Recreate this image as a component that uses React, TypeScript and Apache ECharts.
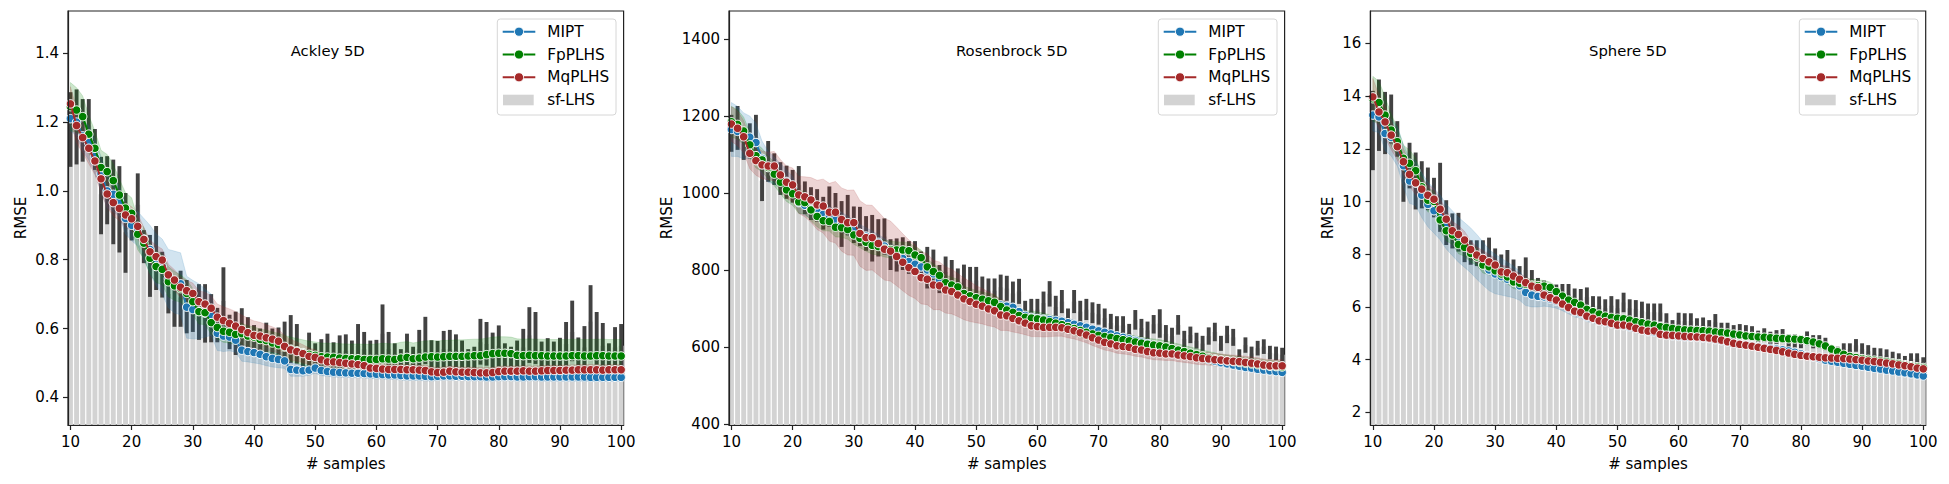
import React, { useEffect, useRef } from "react";
import * as echarts from "echarts";

const FONT = '"DejaVu Sans", "Liberation Sans", sans-serif';

// x categories (# samples)
const SAMPLES = Array.from({ length: 91 }, (_, i) => 10 + i);
const X_TICKS = [10, 20, 30, 40, 50, 60, 70, 80, 90, 100];
const SERIES_NAMES = ["MIPT", "FpPLHS", "MqPLHS", "sf-LHS"];
const TITLES = ["Ackley 5D", "Rosenbrock 5D", "Sphere 5D"];

// ---------------- Ackley 5D ----------------
const ACK_Y_TICKS = [0.4, 0.6, 0.8, 1.0, 1.2, 1.4];
const ACK_SF_MEAN = [
  1.18, 1.19, 1.18, 1.19, 1.12, 0.99, 1.0, 0.97, 0.95, 0.88,
  0.9, 0.96, 0.84, 0.78, 0.8, 0.76, 0.7, 0.68, 0.69, 0.66,
  0.645, 0.65, 0.645, 0.63, 0.61, 0.68, 0.59, 0.585, 0.6, 0.58,
  0.565, 0.555, 0.56, 0.55, 0.55, 0.56, 0.57, 0.555, 0.51, 0.54,
  0.52, 0.525, 0.535, 0.52, 0.53, 0.535, 0.52, 0.55, 0.54, 0.52,
  0.525, 0.585, 0.54, 0.52, 0.51, 0.535, 0.51, 0.54, 0.565, 0.52,
  0.52, 0.54, 0.54, 0.535, 0.52, 0.505, 0.51, 0.56, 0.555, 0.535,
  0.55, 0.515, 0.51, 0.52, 0.545, 0.58, 0.57, 0.52, 0.525, 0.52,
  0.525, 0.555, 0.59, 0.525, 0.545, 0.62, 0.57, 0.55, 0.515, 0.545,
  0.55,
];
const ACK_SF_LO = [
  1.07, 1.077, 1.085, 1.114, 1.061, 0.874, 0.903, 0.845, 0.821, 0.762,
  0.856, 0.867, 0.79, 0.692, 0.712, 0.69, 0.644, 0.605, 0.605, 0.586,
  0.59, 0.567, 0.559, 0.56, 0.56, 0.586, 0.54, 0.523, 0.545, 0.53,
  0.52, 0.515, 0.51, 0.505, 0.5, 0.5, 0.5, 0.498, 0.48, 0.49,
  0.485, 0.485, 0.49, 0.48, 0.485, 0.487, 0.482, 0.49, 0.488, 0.48,
  0.483, 0.5, 0.488, 0.48, 0.475, 0.49, 0.478, 0.488, 0.497, 0.48,
  0.478, 0.487, 0.488, 0.485, 0.48, 0.472, 0.474, 0.495, 0.492, 0.486,
  0.49, 0.478, 0.475, 0.48, 0.488, 0.5, 0.497, 0.478, 0.48, 0.478,
  0.48, 0.49, 0.505, 0.48, 0.487, 0.51, 0.495, 0.488, 0.476, 0.486,
  0.488,
];
const ACK_SF_HI = [
  1.287, 1.295, 1.267, 1.267, 1.18, 1.099, 1.101, 1.091, 1.072, 0.994,
  0.94, 1.051, 0.886, 0.872, 0.898, 0.823, 0.76, 0.751, 0.768, 0.741,
  0.7, 0.729, 0.729, 0.7, 0.66, 0.778, 0.64, 0.649, 0.659, 0.633,
  0.61, 0.6, 0.617, 0.6, 0.603, 0.62, 0.639, 0.613, 0.54, 0.588,
  0.557, 0.569, 0.585, 0.56, 0.58, 0.583, 0.565, 0.613, 0.59, 0.565,
  0.567, 0.67, 0.59, 0.557, 0.54, 0.585, 0.547, 0.596, 0.634, 0.566,
  0.564, 0.593, 0.596, 0.583, 0.565, 0.54, 0.547, 0.628, 0.619, 0.588,
  0.609, 0.557, 0.547, 0.565, 0.599, 0.662, 0.648, 0.562, 0.572, 0.562,
  0.573, 0.619, 0.681, 0.574, 0.607, 0.726, 0.648, 0.616, 0.557, 0.604,
  0.613,
];
const ACK_MIPT = [
  1.21, 1.2, 1.16, 1.14, 1.1, 1.05, 1.0, 0.99, 0.97, 0.92,
  0.9, 0.89, 0.86, 0.83, 0.8, 0.78, 0.745, 0.735, 0.73, 0.662,
  0.655, 0.65, 0.645, 0.64, 0.586, 0.578, 0.575, 0.566, 0.537, 0.533,
  0.53, 0.525, 0.518, 0.513, 0.51, 0.506, 0.481, 0.479, 0.477, 0.479,
  0.485, 0.478, 0.475, 0.473, 0.472, 0.471, 0.47, 0.47, 0.469, 0.468,
  0.467, 0.466, 0.465, 0.465, 0.463, 0.462, 0.462, 0.462, 0.461, 0.46,
  0.461, 0.462, 0.462, 0.461, 0.461, 0.46, 0.46, 0.46, 0.459, 0.459,
  0.46, 0.46, 0.46, 0.459, 0.459, 0.46, 0.46, 0.459, 0.459, 0.459,
  0.459, 0.459, 0.459, 0.459, 0.459, 0.458, 0.458, 0.458, 0.458, 0.458,
  0.458,
];
const ACK_FP = [
  1.245, 1.235, 1.216, 1.165, 1.124, 1.068, 1.056, 1.03, 0.988, 0.95,
  0.935, 0.874, 0.848, 0.804, 0.78, 0.772, 0.736, 0.724, 0.716, 0.702,
  0.678, 0.649, 0.646, 0.617, 0.603, 0.592, 0.589, 0.583, 0.585, 0.578,
  0.575, 0.568, 0.565, 0.558, 0.553, 0.546, 0.54, 0.535, 0.53, 0.525,
  0.522, 0.518, 0.517, 0.516, 0.514, 0.513, 0.512, 0.512, 0.51, 0.51,
  0.51, 0.512, 0.511, 0.51, 0.514, 0.516, 0.512, 0.514, 0.517, 0.518,
  0.517, 0.518, 0.519, 0.519, 0.519, 0.52, 0.521, 0.521, 0.524, 0.527,
  0.528, 0.528, 0.527, 0.522, 0.521, 0.522, 0.521, 0.521, 0.52, 0.52,
  0.52, 0.52, 0.521, 0.521, 0.52, 0.52, 0.521, 0.521, 0.52, 0.52,
  0.52,
];
const ACK_MQ = [
  1.253, 1.19, 1.155, 1.124, 1.087, 1.035, 0.991, 0.966, 0.949, 0.93,
  0.919, 0.897, 0.859, 0.823, 0.809, 0.799, 0.756, 0.741, 0.72, 0.71,
  0.702, 0.678, 0.671, 0.659, 0.633, 0.623, 0.615, 0.607, 0.597, 0.588,
  0.58, 0.578, 0.573, 0.569, 0.563, 0.548, 0.538, 0.533, 0.527, 0.519,
  0.516, 0.509, 0.503, 0.503, 0.501, 0.499, 0.497, 0.495, 0.492, 0.485,
  0.484, 0.482, 0.481, 0.481, 0.481, 0.48, 0.48, 0.479, 0.478, 0.474,
  0.472, 0.473, 0.476, 0.474, 0.473, 0.473, 0.472, 0.471, 0.471, 0.472,
  0.475, 0.476, 0.476, 0.476, 0.477, 0.476, 0.476, 0.477, 0.478, 0.478,
  0.478, 0.479, 0.479, 0.48, 0.48, 0.48, 0.48, 0.479, 0.48, 0.48,
  0.48,
];
const ACK_MIPT_HW = [
  0.035, 0.04, 0.045, 0.05, 0.05, 0.05, 0.05, 0.05, 0.045, 0.045,
  0.045, 0.05, 0.06, 0.07, 0.075, 0.08, 0.085, 0.09, 0.09, 0.09,
  0.085, 0.08, 0.07, 0.06, 0.05, 0.045, 0.04, 0.035, 0.032, 0.03,
  0.03, 0.028, 0.026, 0.025, 0.024, 0.022, 0.02, 0.018, 0.016, 0.015,
  0.015, 0.015, 0.014, 0.014, 0.014, 0.013, 0.013, 0.013, 0.013, 0.013,
  0.013, 0.013, 0.013, 0.013, 0.013, 0.013, 0.013, 0.013, 0.013, 0.013,
  0.012, 0.012, 0.012, 0.012, 0.012, 0.012, 0.012, 0.012, 0.012, 0.012,
  0.012, 0.012, 0.012, 0.012, 0.012, 0.012, 0.012, 0.012, 0.012, 0.012,
  0.012, 0.012, 0.012, 0.012, 0.012, 0.012, 0.012, 0.012, 0.012, 0.012,
  0.012,
];
const ACK_FP_HW = [
  0.07, 0.065, 0.06, 0.055, 0.05, 0.05, 0.05, 0.048, 0.046, 0.045,
  0.045, 0.045, 0.045, 0.046, 0.046, 0.045, 0.044, 0.042, 0.04, 0.04,
  0.038, 0.036, 0.035, 0.034, 0.033, 0.032, 0.031, 0.03, 0.03, 0.03,
  0.03, 0.03, 0.031, 0.032, 0.033, 0.034, 0.035, 0.036, 0.037, 0.038,
  0.039, 0.04, 0.04, 0.041, 0.042, 0.042, 0.043, 0.043, 0.044, 0.044,
  0.045, 0.045, 0.045, 0.046, 0.046, 0.046, 0.046, 0.047, 0.047, 0.047,
  0.047, 0.047, 0.047, 0.048, 0.048, 0.048, 0.048, 0.048, 0.048, 0.048,
  0.048, 0.048, 0.048, 0.048, 0.048, 0.048, 0.048, 0.048, 0.048, 0.048,
  0.048, 0.048, 0.048, 0.048, 0.048, 0.048, 0.048, 0.048, 0.048, 0.048,
  0.048,
];
const ACK_MQ_HW = [
  0.05, 0.05, 0.045, 0.045, 0.04, 0.04, 0.04, 0.038, 0.036, 0.035,
  0.035, 0.035, 0.035, 0.034, 0.033, 0.032, 0.031, 0.03, 0.03, 0.03,
  0.03, 0.032, 0.034, 0.036, 0.038, 0.04, 0.042, 0.042, 0.042, 0.042,
  0.042, 0.04, 0.038, 0.036, 0.034, 0.032, 0.03, 0.028, 0.026, 0.024,
  0.022, 0.02, 0.019, 0.018, 0.017, 0.016, 0.016, 0.015, 0.015, 0.015,
  0.015, 0.015, 0.015, 0.015, 0.015, 0.015, 0.015, 0.015, 0.015, 0.015,
  0.015, 0.015, 0.015, 0.015, 0.015, 0.015, 0.015, 0.015, 0.015, 0.015,
  0.015, 0.015, 0.015, 0.015, 0.015, 0.015, 0.015, 0.015, 0.015, 0.015,
  0.015, 0.015, 0.015, 0.015, 0.015, 0.015, 0.015, 0.015, 0.015, 0.015,
  0.015,
];

// ---------------- Rosenbrock 5D ----------------
const ROS_Y_TICKS = [400, 600, 800, 1000, 1200, 1400];
const ROS_SF_MEAN = [
  1155, 1170, 1128, 1135, 1146, 1032, 1082, 1062, 1037, 1028,
  1017, 1020, 987, 972, 967, 947, 964, 950, 920, 942,
  917, 913, 895, 882, 883, 887, 840, 839, 842, 832,
  832, 809, 806, 811, 776, 795, 788, 768, 778, 773,
  773, 750, 746, 746, 755, 752, 739, 744, 692, 697,
  697, 714, 738, 704, 718, 675, 718, 692, 697, 689,
  685, 675, 662, 656, 656, 637, 670, 649, 643, 659,
  661, 634, 628, 657, 621, 631, 616, 609, 628, 639,
  609, 632, 625, 577, 605, 583, 597, 601, 585, 583,
  580,
];
const ROS_SF_LO = [
  1107, 1112, 1086, 1090, 1090, 979, 1029, 1021, 995, 985,
  975, 969, 945, 930, 925, 905, 912, 900, 860, 890,
  870, 862, 850, 822, 835, 840, 800, 796, 800, 790,
  790, 770, 752, 770, 740, 755, 750, 732, 742, 738,
  738, 718, 714, 714, 722, 720, 708, 712, 665, 670,
  670, 685, 705, 676, 688, 650, 688, 665, 670, 662,
  658, 650, 638, 633, 633, 615, 645, 625, 620, 635,
  624, 612, 606, 632, 600, 610, 596, 590, 606, 615,
  590, 610, 603, 560, 585, 566, 578, 582, 568, 566,
  563,
];
const ROS_SF_HI = [
  1203, 1226, 1170, 1181, 1203, 1086, 1135, 1103, 1080, 1071,
  1060, 1070, 1030, 1015, 1010, 990, 1017, 1000, 979, 995,
  965, 964, 940, 943, 932, 934, 880, 882, 885, 875,
  875, 848, 860, 853, 813, 835, 826, 804, 814, 808,
  808, 783, 778, 778, 788, 785, 770, 777, 720, 725,
  725, 744, 771, 733, 748, 700, 748, 720, 725, 716,
  712, 700, 686, 680, 680, 660, 696, 673, 666, 683,
  698, 657, 650, 683, 642, 653, 637, 629, 651, 663,
  629, 655, 647, 594, 625, 601, 616, 620, 603, 601,
  598,
];
const ROS_MIPT = [
  1165, 1160, 1148, 1145, 1131, 1090, 1068, 1058, 1045, 1030,
  1015, 975, 968, 958, 952, 945, 940, 930, 925, 915,
  905, 895, 888, 880, 872, 862, 852, 842, 830, 822,
  815, 808, 800, 790, 775, 762, 752, 742, 736, 730,
  725, 720, 716, 712, 709, 706, 703, 692, 682, 677,
  674, 672, 671, 669, 667, 663, 659, 655, 651, 646,
  642, 638, 634, 629, 625, 621, 617, 613, 609, 605,
  601, 597, 593, 589, 585, 580, 576, 571, 567, 563,
  559, 556, 553, 550, 547, 545, 542, 540, 538, 536,
  534,
];
const ROS_FP = [
  1185, 1178, 1161, 1125, 1097, 1086, 1066, 1049, 1028, 1008,
  998, 977, 975, 956, 939, 928, 926, 911, 910, 905,
  891, 882, 872, 864, 861, 856, 853, 852, 852, 850,
  839, 832, 808, 796, 786, 767, 761, 756, 739, 733,
  728, 724, 720, 716, 705, 696, 690, 682, 677, 675,
  673, 670, 666, 662, 658, 653, 648, 643, 638, 634,
  630, 627, 625, 622, 619, 616, 613, 610, 607, 605,
  603, 600, 596, 592, 588, 584, 580, 576, 572, 569,
  566, 564, 562, 560, 558, 556, 554, 552, 550, 549,
  548,
];
const ROS_MQ = [
  1179, 1168, 1146, 1103, 1084, 1073, 1070, 1070, 1047, 1028,
  1021, 995, 990, 982, 969, 966, 950, 950, 931, 923,
  923, 895, 884, 884, 869, 854, 849, 835, 820, 806,
  796, 780, 776, 761, 759, 748, 744, 735, 725, 718,
  711, 706, 699, 694, 683, 681, 674, 668, 662, 655,
  653, 651, 651, 651, 650, 646, 642, 637, 631, 624,
  618, 612, 608, 603, 601, 599, 594, 592, 588, 585,
  584, 582, 582, 579, 577, 575, 572, 570, 569, 567,
  566, 564, 563, 562, 560, 558, 556, 553, 551, 551,
  551,
];
const ROS_MIPT_HW = [
  70, 65, 60, 55, 50, 45, 40, 35, 32, 30,
  28, 27, 26, 25, 25, 25, 25, 25, 25, 25,
  24, 23, 22, 21, 20, 20, 19, 18, 18, 17,
  16, 16, 15, 15, 14, 14, 13, 13, 13, 12,
  12, 12, 12, 12, 12, 12, 12, 11, 11, 11,
  11, 11, 11, 11, 11, 11, 11, 10, 10, 10,
  10, 10, 10, 10, 10, 10, 10, 10, 10, 10,
  10, 10, 10, 10, 10, 10, 9, 9, 9, 9,
  9, 9, 9, 9, 9, 9, 9, 9, 9, 9,
  9,
];
const ROS_FP_HW = [
  40, 38, 36, 34, 32, 30, 30, 30, 30, 30,
  30, 30, 29, 28, 27, 26, 25, 25, 25, 25,
  24, 24, 23, 23, 22, 22, 22, 21, 21, 21,
  21, 20, 20, 20, 20, 20, 20, 20, 19, 19,
  19, 19, 19, 19, 18, 18, 18, 18, 18, 18,
  18, 18, 17, 17, 17, 17, 17, 17, 17, 17,
  16, 16, 16, 16, 16, 16, 16, 16, 16, 16,
  16, 16, 16, 16, 16, 16, 16, 16, 16, 16,
  15, 15, 15, 15, 15, 15, 15, 15, 15, 15,
  15,
];
const ROS_MQ_HW = [
  45, 45, 42, 40, 38, 36, 36, 38, 40, 42,
  44, 48, 52, 58, 64, 70, 75, 80, 82, 84,
  85, 85, 85, 84, 82, 80, 78, 76, 74, 72,
  70, 68, 66, 64, 62, 60, 58, 56, 54, 52,
  48, 46, 44, 42, 40, 38, 35, 32, 30, 28,
  26, 25, 24, 23, 22, 22, 21, 21, 20, 20,
  20, 20, 19, 19, 19, 19, 18, 18, 18, 18,
  18, 17, 17, 17, 17, 17, 17, 16, 16, 16,
  16, 16, 16, 16, 16, 16, 16, 16, 16, 16,
  16,
];

// ---------------- Sphere 5D ----------------
const SPH_Y_TICKS = [2, 4, 6, 8, 10, 12, 14, 16];
const SPH_SF_MEAN = [
  12.7, 13.3, 13.0, 13.1, 12.4, 10.85, 11.35, 10.8, 10.6, 10.5,
  10.15, 10.15, 9.2, 8.9, 8.85, 8.13, 8.06, 8.04, 8.0, 8.1,
  7.76, 7.55, 7.68, 7.38, 7.15, 7.4, 7.0, 6.75, 6.65, 6.55,
  6.5, 6.48, 6.48, 6.33, 6.3, 6.37, 6.05, 6.05, 5.95, 6.05,
  5.95, 6.17, 5.95, 5.92, 5.86, 5.8, 5.8, 5.79, 5.45, 5.22,
  5.48, 5.46, 5.46, 5.28, 5.31, 5.22, 5.42, 5.12, 5.12, 5.05,
  5.07, 5.04, 5.0, 4.85, 4.93, 4.8, 4.86, 4.9, 4.71, 4.71,
  4.68, 4.81, 4.68, 4.68, 4.59, 4.32, 4.27, 4.39, 4.39, 4.54,
  4.39, 4.32, 4.22, 4.2, 4.17, 4.08, 4.03, 3.94, 4.03, 4.03,
  3.9,
];
const SPH_SF_LO = [
  11.19, 11.92, 11.8, 12.2, 11.7, 9.99, 10.5, 9.7, 9.74, 9.67,
  9.4, 8.85, 8.35, 8.22, 8.1, 7.7, 7.6, 7.55, 7.5, 7.6,
  7.3, 7.1, 7.2, 6.95, 6.75, 6.95, 6.6, 6.4, 6.3, 6.2,
  6.15, 6.1, 6.1, 5.95, 5.95, 6.0, 5.7, 5.7, 5.6, 5.7,
  5.6, 5.8, 5.6, 5.58, 5.52, 5.46, 5.46, 5.45, 5.15, 4.95,
  5.18, 5.16, 5.16, 5.0, 5.02, 4.95, 5.12, 4.85, 4.85, 4.78,
  4.8, 4.77, 4.73, 4.6, 4.67, 4.55, 4.6, 4.64, 4.46, 4.46,
  4.44, 4.55, 4.43, 4.43, 4.35, 4.1, 4.05, 4.16, 4.16, 4.3,
  4.16, 4.1, 4.0, 3.98, 3.95, 3.87, 3.82, 3.74, 3.82, 3.82,
  3.7,
];
const SPH_SF_HI = [
  14.2, 14.63, 14.16, 14.06, 13.05, 11.7, 12.23, 11.86, 11.53, 11.29,
  10.9, 11.47, 10.05, 9.55, 9.57, 8.56, 8.53, 8.53, 8.53, 8.63,
  8.22, 7.99, 8.16, 7.8, 7.55, 7.88, 7.4, 7.1, 7.0, 6.9,
  6.85, 6.87, 6.87, 6.7, 6.68, 6.74, 6.41, 6.4, 6.29, 6.41,
  6.29, 6.54, 6.29, 6.26, 6.2, 6.13, 6.13, 6.13, 5.76, 5.5,
  5.78, 5.76, 5.76, 5.57, 5.6, 5.5, 5.73, 5.4, 5.4, 5.31,
  5.35, 5.31, 5.27, 5.1, 5.19, 5.06, 5.12, 5.16, 4.96, 4.96,
  4.93, 5.07, 4.93, 4.93, 4.83, 4.55, 4.49, 4.62, 4.62, 4.78,
  4.62, 4.55, 4.45, 4.43, 4.39, 4.3, 4.24, 4.14, 4.24, 4.24,
  4.09,
];
const SPH_MIPT = [
  13.28, 13.21, 12.58, 12.43, 12.1, 11.36, 10.78, 10.7, 10.24, 9.89,
  9.65, 9.4, 9.05, 8.8, 8.55, 8.35, 8.15, 7.9, 7.65, 7.4,
  7.25, 7.15, 7.05, 6.95, 6.8, 6.55, 6.45, 6.4, 6.38, 6.3,
  6.22, 6.1, 5.96, 5.82, 5.75, 5.62, 5.55, 5.46, 5.42, 5.36,
  5.3, 5.29, 5.24, 5.18, 5.11, 5.06, 5.05, 4.95, 4.92, 4.9,
  4.88, 4.86, 4.85, 4.84, 4.82, 4.8, 4.76, 4.72, 4.67, 4.62,
  4.58, 4.55, 4.52, 4.49, 4.46, 4.43, 4.4, 4.37, 4.33, 4.28,
  4.22, 4.16, 4.1, 4.04, 3.98, 3.94, 3.9, 3.86, 3.82, 3.78,
  3.75, 3.71, 3.67, 3.64, 3.6, 3.57, 3.53, 3.5, 3.46, 3.42,
  3.38,
];
const SPH_FP = [
  13.9, 13.76, 13.28, 12.71, 12.27, 11.64, 11.45, 11.17, 10.56, 10.05,
  10.0, 9.3, 8.89, 8.73, 8.37, 8.26, 8.03, 7.9, 7.59, 7.52,
  7.37, 7.25, 7.14, 6.95, 6.9, 6.86, 6.83, 6.81, 6.79, 6.74,
  6.58, 6.41, 6.26, 6.17, 6.07, 5.91, 5.82, 5.73, 5.65, 5.6,
  5.57, 5.55, 5.5, 5.44, 5.4, 5.35, 5.31, 5.25, 5.22, 5.18,
  5.15, 5.13, 5.12, 5.11, 5.1, 5.08, 5.05, 5.03, 5.01, 4.97,
  4.94, 4.9, 4.88, 4.86, 4.85, 4.83, 4.81, 4.8, 4.79, 4.78,
  4.76, 4.72, 4.67, 4.6, 4.52, 4.4, 4.3, 4.2, 4.12, 4.08,
  4.04, 4.01, 3.98, 3.95, 3.92, 3.88, 3.85, 3.81, 3.77, 3.73,
  3.7,
];
const SPH_MQ = [
  13.97, 13.4, 13.02, 12.52, 12.08, 11.51, 11.03, 10.71, 10.47, 10.24,
  10.09, 9.71, 9.33, 8.89, 8.75, 8.54, 8.18, 7.97, 7.84, 7.71,
  7.59, 7.33, 7.3, 7.17, 7.05, 6.92, 6.79, 6.74, 6.45, 6.35,
  6.26, 6.11, 5.98, 5.84, 5.79, 5.65, 5.57, 5.47, 5.44, 5.38,
  5.31, 5.31, 5.27, 5.19, 5.12, 5.08, 5.09, 4.96, 4.93, 4.92,
  4.9, 4.88, 4.87, 4.86, 4.84, 4.82, 4.78, 4.74, 4.68, 4.62,
  4.58, 4.55, 4.51, 4.47, 4.43, 4.39, 4.35, 4.3, 4.25, 4.2,
  4.16, 4.13, 4.11, 4.09, 4.07, 4.06, 4.05, 4.04, 4.02, 4.0,
  3.98, 3.95, 3.93, 3.9, 3.87, 3.84, 3.8, 3.77, 3.73, 3.68,
  3.65,
];
const SPH_MIPT_HW = [
  0.6, 0.6, 0.65, 0.7, 0.75, 0.8, 0.85, 0.85, 0.85, 0.85,
  0.85, 0.85, 0.85, 0.85, 0.85, 0.85, 0.85, 0.85, 0.82, 0.78,
  0.75, 0.7, 0.65, 0.6, 0.55, 0.5, 0.45, 0.4, 0.35, 0.3,
  0.27, 0.24, 0.22, 0.2, 0.18, 0.17, 0.16, 0.15, 0.14, 0.14,
  0.13, 0.13, 0.13, 0.13, 0.13, 0.13, 0.13, 0.13, 0.13, 0.13,
  0.12, 0.12, 0.12, 0.12, 0.12, 0.12, 0.12, 0.12, 0.12, 0.12,
  0.12, 0.12, 0.12, 0.12, 0.12, 0.12, 0.12, 0.12, 0.12, 0.12,
  0.11, 0.11, 0.11, 0.11, 0.11, 0.11, 0.11, 0.11, 0.11, 0.11,
  0.11, 0.11, 0.11, 0.11, 0.11, 0.11, 0.11, 0.11, 0.11, 0.11,
  0.11,
];
const SPH_FP_HW = [
  0.85, 0.8, 0.7, 0.6, 0.55, 0.5, 0.5, 0.5, 0.45, 0.45,
  0.4, 0.4, 0.38, 0.36, 0.35, 0.34, 0.33, 0.32, 0.3, 0.3,
  0.28, 0.27, 0.26, 0.25, 0.24, 0.23, 0.22, 0.22, 0.21, 0.2,
  0.2, 0.19, 0.18, 0.17, 0.16, 0.15, 0.15, 0.14, 0.14, 0.14,
  0.13, 0.13, 0.13, 0.13, 0.13, 0.13, 0.13, 0.13, 0.13, 0.13,
  0.13, 0.13, 0.13, 0.13, 0.13, 0.13, 0.13, 0.13, 0.13, 0.13,
  0.12, 0.12, 0.12, 0.12, 0.12, 0.12, 0.12, 0.12, 0.12, 0.12,
  0.12, 0.12, 0.12, 0.12, 0.12, 0.12, 0.12, 0.12, 0.12, 0.12,
  0.11, 0.11, 0.11, 0.11, 0.11, 0.11, 0.11, 0.11, 0.11, 0.11,
  0.11,
];
const SPH_MQ_HW = [
  0.7, 0.65, 0.6, 0.55, 0.5, 0.5, 0.45, 0.45, 0.42, 0.4,
  0.4, 0.38, 0.36, 0.35, 0.34, 0.33, 0.32, 0.3, 0.3, 0.28,
  0.26, 0.25, 0.24, 0.23, 0.22, 0.21, 0.2, 0.2, 0.19, 0.18,
  0.17, 0.16, 0.15, 0.15, 0.14, 0.14, 0.13, 0.13, 0.13, 0.12,
  0.12, 0.12, 0.12, 0.12, 0.12, 0.12, 0.12, 0.12, 0.12, 0.12,
  0.11, 0.11, 0.11, 0.11, 0.11, 0.11, 0.11, 0.11, 0.11, 0.11,
  0.11, 0.11, 0.11, 0.11, 0.11, 0.11, 0.11, 0.11, 0.11, 0.11,
  0.1, 0.1, 0.1, 0.1, 0.1, 0.1, 0.1, 0.1, 0.1, 0.1,
  0.1, 0.1, 0.1, 0.1, 0.1, 0.1, 0.1, 0.1, 0.1, 0.1,
  0.1,
];

// ---------------- styling / layout ----------------
const COLORS = ["#1f77b4", "#008000", "#a52a2a"];
const BAND_COLORS = ["rgba(31,119,180,0.2)", "rgba(0,128,0,0.2)", "rgba(165,42,42,0.2)"];
const BAR_COLOR = "#d3d3d3";
const ERR_COLOR = "#424242";
const AXIS_COLOR = "#222222";
const TICK_FONT = 15;
const GRID_TOP = 11;
const GRID_HEIGHT = 414;

const PANELS = [
  {
    left: 68, width: 555.6, yMin: 0.3195, yMax: 1.523, yTicks: ACK_Y_TICKS, decimals: 1,
    titleLeft: 290.7, legendLeft: 497.3, yNameGap: 40,
    sfMean: ACK_SF_MEAN, sfLo: ACK_SF_LO, sfHi: ACK_SF_HI,
    lines: [ACK_MIPT, ACK_FP, ACK_MQ], hws: [ACK_MIPT_HW, ACK_FP_HW, ACK_MQ_HW],
  },
  {
    left: 729, width: 555.6, yMin: 397.4, yMax: 1472.7, yTicks: ROS_Y_TICKS, decimals: 0,
    titleLeft: 956, legendLeft: 1158.3, yNameGap: 55,
    sfMean: ROS_SF_MEAN, sfLo: ROS_SF_LO, sfHi: ROS_SF_HI,
    lines: [ROS_MIPT, ROS_FP, ROS_MQ], hws: [ROS_MIPT_HW, ROS_FP_HW, ROS_MQ_HW],
  },
  {
    left: 1370.4, width: 555.3, yMin: 1.52, yMax: 17.23, yTicks: SPH_Y_TICKS, decimals: 0,
    titleLeft: 1589, legendLeft: 1799.3, yNameGap: 35,
    sfMean: SPH_SF_MEAN, sfLo: SPH_SF_LO, sfHi: SPH_SF_HI,
    lines: [SPH_MIPT, SPH_FP, SPH_MQ], hws: [SPH_MIPT_HW, SPH_FP_HW, SPH_MQ_HW],
  },
];

function buildOption() {
  const series: any[] = [];
  PANELS.forEach((p, k) => {
    // sf-LHS bars
    series.push({
      type: "custom",
      name: "sf-LHS",
      xAxisIndex: k,
      yAxisIndex: k,
      silent: true,
      clip: true,
      z: 1,
      data: SAMPLES.map((n, i) => [n, p.sfMean[i]]),
      encode: { x: 0, y: 1 },
      renderItem: (params: any, api: any) => {
        const x = api.value(0);
        const m = api.value(1);
        const a = api.coord([x - 0.4, m]);
        const b = api.coord([x + 0.4, p.yMin]);
        return {
          type: "rect",
          shape: { x: a[0], y: a[1], width: b[0] - a[0], height: b[1] - a[1] },
          style: { fill: BAR_COLOR },
        };
      },
    });
    // error bars
    series.push({
      type: "custom",
      name: "sf-LHS-err",
      xAxisIndex: k,
      yAxisIndex: k,
      silent: true,
      clip: true,
      z: 2,
      data: SAMPLES.map((n, i) => [n, p.sfLo[i], p.sfHi[i]]),
      encode: { x: 0, y: [1, 2] },
      renderItem: (params: any, api: any) => {
        const x = api.value(0);
        const a = api.coord([x, api.value(1)]);
        const b = api.coord([x, api.value(2)]);
        return {
          type: "line",
          shape: { x1: a[0], y1: a[1], x2: b[0], y2: b[1] },
          style: { stroke: ERR_COLOR, lineWidth: 3.9, lineCap: "butt" },
        };
      },
    });
    // confidence bands
    p.lines.forEach((vals, j) => {
      const lo = vals.map((v, i) => v - p.hws[j][i]);
      const hi = vals.map((v, i) => v + p.hws[j][i]);
      series.push({
        type: "custom",
        name: SERIES_NAMES[j] + "-band",
        xAxisIndex: k,
        yAxisIndex: k,
        silent: true,
        clip: true,
        z: 3,
        data: SAMPLES.map((n, i) => [n, lo[i], hi[i]]),
        encode: { x: 0, y: [1, 2] },
        renderItem: (params: any, api: any) => {
          if (params.dataIndex !== 0) return null;
          const pts: number[][] = [];
          for (let i = 0; i < SAMPLES.length; i++) pts.push(api.coord([SAMPLES[i], hi[i]]));
          for (let i = SAMPLES.length - 1; i >= 0; i--) pts.push(api.coord([SAMPLES[i], lo[i]]));
          return {
            type: "polygon",
            shape: { points: pts },
            style: { fill: BAND_COLORS[j], stroke: BAND_COLORS[j], lineWidth: 0.8 },
          };
        },
      });
    });
    // mean lines with markers
    p.lines.forEach((vals, j) => {
      series.push({
        type: "line",
        name: SERIES_NAMES[j],
        xAxisIndex: k,
        yAxisIndex: k,
        z: 4 + j,
        silent: true,
        data: SAMPLES.map((n, i) => [n, vals[i]]),
        symbol: "circle",
        symbolSize: 8.5,
        showSymbol: true,
        showAllSymbol: true,
        itemStyle: { color: COLORS[j], borderColor: "#ffffff", borderWidth: 1 },
        lineStyle: { color: COLORS[j], width: 2 },
        emphasis: { disabled: true },
      });
    });
  });

  const legendGraphics = PANELS.map((p) => {
    const L = p.legendLeft;
    const rows = [31.7, 54.5, 77.3, 100];
    const children: any[] = [
      {
        type: "rect",
        shape: { x: L, y: 19, width: 118.7, height: 96, r: 3 },
        style: { fill: "rgba(255,255,255,0.8)", stroke: "#d6d6d6", lineWidth: 1 },
      },
    ];
    for (let j = 0; j < 3; j++) {
      children.push({
        type: "line",
        shape: { x1: L + 5.4, y1: rows[j], x2: L + 38, y2: rows[j] },
        style: { stroke: COLORS[j], lineWidth: 2 },
      });
      children.push({
        type: "circle",
        shape: { cx: L + 21.7, cy: rows[j], r: 4.6 },
        style: { fill: COLORS[j], stroke: "#ffffff", lineWidth: 1 },
      });
    }
    children.push({
      type: "rect",
      shape: { x: L + 5.7, y: rows[3] - 5.3, width: 30.7, height: 10.6 },
      style: { fill: BAR_COLOR },
    });
    SERIES_NAMES.forEach((name, j) => {
      children.push({
        type: "text",
        style: {
          text: name,
          x: L + 50,
          y: rows[j],
          fill: "#000000",
          font: `15.3px ${FONT}`,
          verticalAlign: "middle",
          textVerticalAlign: "middle",
        },
      });
    });
    return { type: "group", z: 100, silent: true, children };
  });

  return {
    animation: false,
    backgroundColor: "#ffffff",
    textStyle: { fontFamily: FONT },
    title: PANELS.map((p, k) => ({
      text: TITLES[k],
      left: p.titleLeft,
      top: 43,
      padding: 0,
      textStyle: { fontSize: 14.8, fontWeight: "normal", color: "#000000", fontFamily: FONT },
    })),
    grid: PANELS.map((p) => ({
      left: p.left,
      top: GRID_TOP,
      width: p.width,
      height: GRID_HEIGHT,
      show: true,
      borderColor: AXIS_COLOR,
      borderWidth: 1.2,
      backgroundColor: "transparent",
    })),
    xAxis: PANELS.map((p, k) => ({
      type: "value",
      gridIndex: k,
      min: 9.6,
      max: 100.4,
      z: 10,
      name: "# samples",
      nameLocation: "middle",
      nameGap: 31,
      nameTextStyle: { fontSize: TICK_FONT, color: "#000000", fontFamily: FONT },
      axisLine: { show: true, onZero: false, lineStyle: { color: AXIS_COLOR, width: 1.2 } },
      axisTick: { show: true, length: 5, customValues: X_TICKS, lineStyle: { color: AXIS_COLOR, width: 1.2 } },
      axisLabel: { show: true, customValues: X_TICKS, margin: 9, fontSize: TICK_FONT, color: "#000000", fontFamily: FONT },
      splitLine: { show: false },
    })),
    yAxis: PANELS.map((p, k) => ({
      type: "value",
      gridIndex: k,
      min: p.yMin,
      max: p.yMax,
      z: 10,
      name: "RMSE",
      nameLocation: "middle",
      nameGap: p.yNameGap,
      nameRotate: 90,
      nameTextStyle: { fontSize: TICK_FONT, color: "#000000", fontFamily: FONT },
      axisLine: { show: true, onZero: false, lineStyle: { color: AXIS_COLOR, width: 1.2 } },
      axisTick: { show: true, length: 5, customValues: p.yTicks, lineStyle: { color: AXIS_COLOR, width: 1.2 } },
      axisLabel: {
        show: true,
        customValues: p.yTicks,
        margin: 9,
        fontSize: TICK_FONT,
        color: "#000000",
        fontFamily: FONT,
        formatter: (v: number) => v.toFixed(p.decimals),
      },
      splitLine: { show: false },
    })),
    series,
    graphic: legendGraphics,
  };
}

export default function App() {
  const ref = useRef<HTMLDivElement>(null);
  useEffect(() => {
    if (!ref.current) return;
    const chart = echarts.init(ref.current, null, { renderer: "svg" });
    chart.setOption(buildOption() as any);
    return () => {
      chart.dispose();
    };
  }, []);
  return (
    <div
      ref={ref}
      style={{ position: "fixed", left: 0, top: 0, width: 1949, height: 484, background: "#fff" }}
    />
  );
}
